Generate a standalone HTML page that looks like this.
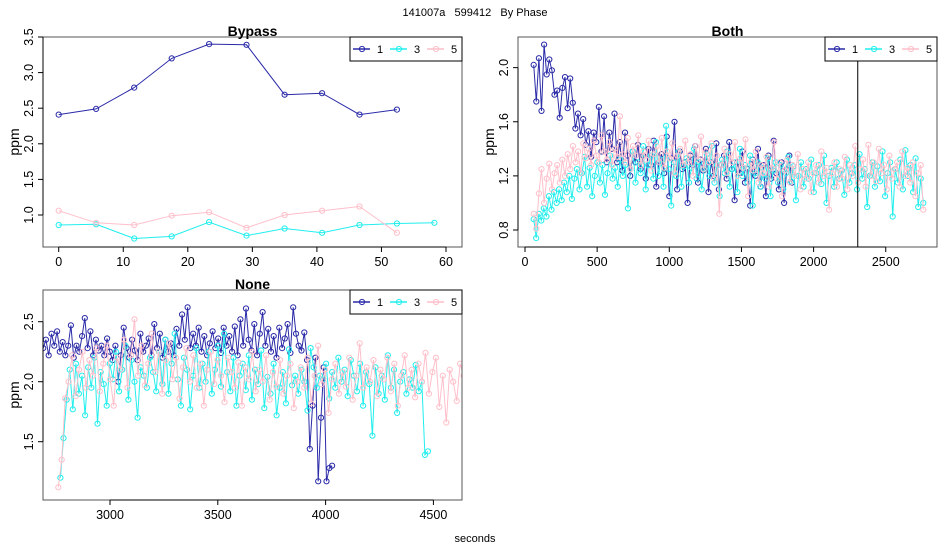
<!DOCTYPE html>
<html><head><meta charset="utf-8"><style>
html,body{margin:0;padding:0;background:#fff;}
svg{display:block;font-family:"Liberation Sans",sans-serif;}
</style></head><body>
<svg id="s" width="950" height="550" viewBox="0 0 950 550">
<text x="475" y="16" text-anchor="middle" font-size="11" style="white-space:pre">141007a   599412   By Phase</text>
<text x="475" y="542" text-anchor="middle" font-size="11">seconds</text>
</svg>
<script>
// ---- Bypass data ----
const bypassX1 = [0,5.8,11.7,17.5,23.3,29.1,35,40.8,46.6,52.4];
const bypassY1 = [2.41,2.49,2.79,3.20,3.40,3.39,2.69,2.71,2.41,2.48];
const bypassX3 = [0,5.8,11.7,17.5,23.3,29.1,35,40.8,46.6,52.4,58.2];
const bypassY3 = [0.86,0.87,0.67,0.70,0.90,0.71,0.81,0.75,0.86,0.88,0.89];
const bypassX5 = [0,5.8,11.7,17.5,23.3,29.1,35,40.8,46.6,52.4];
const bypassY5 = [1.06,0.89,0.86,0.99,1.04,0.82,1.00,1.06,1.12,0.75];
// ---- Both data (time range start/end per series, values sampled evenly) ----
const bothRange1 = [60,1850];
const bothY1 = [2.02,1.75,2.07,1.68,2.17,1.95,2.06,1.98,1.80,1.83,1.63,1.85,1.93,1.70,1.92,1.74,1.55,1.66,1.50,1.62,1.43,1.53,1.34,1.52,1.45,1.71,1.38,1.64,1.30,1.52,1.40,1.66,1.30,1.45,1.24,1.52,1.35,1.20,1.38,1.30,1.43,1.25,1.35,1.18,1.40,1.28,1.46,1.12,1.30,1.36,1.22,1.49,1.05,1.33,1.60,1.10,1.38,1.25,1.30,1.00,1.35,1.28,1.42,1.15,1.32,1.24,1.40,1.08,1.30,1.20,1.44,1.10,1.28,1.35,1.18,1.45,1.25,1.02,1.30,1.22,1.38,1.15,1.25,0.98,1.32,1.20,1.40,1.12,1.28,1.05,1.35,1.18,1.46,1.22,1.10,1.30,1.00,1.25,1.35,1.15];
const bothRange3 = [60,2760];
const bothY3 = [0.88,0.74,0.92,0.87,0.96,0.90,1.05,0.95,1.08,1.00,1.10,1.02,1.15,1.08,1.20,1.03,1.18,1.25,1.10,1.22,1.34,1.12,1.26,1.05,1.20,1.30,1.15,1.28,1.06,1.22,1.35,1.18,1.26,1.12,1.32,1.20,1.28,0.96,1.25,1.38,1.15,1.30,1.22,1.42,1.10,1.28,1.35,1.18,1.45,1.20,1.32,1.12,1.57,1.25,0.98,1.30,1.20,1.38,1.12,1.27,1.33,1.15,1.26,1.40,1.18,1.30,1.10,1.25,1.36,1.20,1.42,1.15,1.28,1.05,1.32,1.22,1.38,1.12,1.25,1.30,1.08,1.40,1.20,1.28,1.15,1.35,0.98,1.22,1.30,1.12,1.26,1.18,1.33,1.05,1.24,1.30,1.15,1.28,1.10,1.22,1.34,1.16,1.27,1.02,1.20,1.30,1.12,1.25,1.18,1.32,1.08,1.22,1.28,1.14,1.35,1.00,1.20,1.26,1.12,1.30,1.18,1.24,1.06,1.32,1.15,1.22,1.28,1.10,1.36,1.18,1.25,0.97,1.20,1.30,1.12,1.27,1.16,1.38,1.05,1.22,1.30,0.90,1.25,1.15,1.32,1.10,1.39,1.20,1.28,1.08,1.33,0.97,1.18,1.00];
const bothRange5 = [60,2760];
const bothY5 = [0.92,0.81,1.07,1.25,1.00,1.18,1.29,1.10,1.22,1.28,1.15,1.32,1.20,1.36,1.25,1.42,1.30,1.38,1.22,1.44,1.33,1.40,1.28,1.46,1.35,1.30,1.50,1.38,1.32,1.45,1.28,1.40,1.34,1.64,1.36,1.30,1.48,1.25,1.42,1.35,1.50,1.28,1.38,1.32,1.46,1.24,1.36,1.42,1.30,1.48,1.26,1.38,1.33,1.44,1.22,1.35,1.40,1.28,1.46,1.30,1.36,1.20,1.42,1.32,1.49,1.25,1.38,1.30,1.44,1.18,1.35,0.92,1.28,1.40,1.22,1.36,1.30,1.45,1.20,1.33,1.26,1.47,1.05,1.30,1.24,1.38,1.15,1.28,1.22,1.34,1.12,1.26,1.45,1.18,1.30,1.05,1.24,1.32,1.15,1.28,1.20,1.36,1.10,1.25,1.18,1.30,1.08,1.22,1.28,1.15,1.38,1.20,1.26,0.95,1.22,1.30,1.12,1.25,1.18,1.34,1.10,1.28,1.20,1.42,1.15,1.25,1.32,1.12,1.43,1.20,1.30,1.16,1.40,1.22,1.28,1.10,1.35,1.18,1.25,1.30,1.12,1.38,1.20,1.26,1.15,1.30,1.05,1.22,1.28,0.95];
const bothVLine = [2306];
// ---- None data ----
const noneRange1 = [2690,4030];
const noneY1 = [2.28,2.35,2.22,2.40,2.30,2.42,2.25,2.33,2.22,2.30,2.47,2.20,2.30,2.25,2.38,2.53,2.28,2.42,2.22,2.35,2.26,2.30,2.22,2.36,2.25,2.18,2.30,2.00,2.22,2.45,2.28,2.20,2.35,2.26,2.18,2.40,2.25,2.30,2.36,2.22,2.48,2.28,2.40,2.20,2.35,2.25,2.32,2.22,2.44,2.30,2.56,2.35,2.62,2.28,2.40,2.30,2.45,2.25,2.38,2.22,2.32,2.42,2.28,2.36,2.24,2.45,2.30,2.38,2.25,2.46,2.22,2.52,2.30,2.61,2.35,2.26,2.48,2.22,2.40,2.58,2.30,2.44,2.25,2.38,2.20,2.45,2.28,2.36,2.48,2.24,2.62,2.40,2.30,2.26,2.41,2.18,1.44,1.80,2.20,1.17,1.70,2.12,1.17,1.28,1.30];
const noneRange3 = [2770,4475];
const noneY3 = [1.20,1.53,1.85,2.10,1.77,2.15,1.90,2.05,1.72,2.12,1.95,2.20,1.65,2.08,1.98,1.80,2.15,2.02,2.25,1.92,2.10,2.30,1.85,2.18,2.00,1.70,2.12,2.05,1.95,2.20,2.08,1.92,2.25,1.98,2.35,1.90,2.15,2.40,2.02,1.80,2.20,2.10,1.77,2.05,2.28,1.95,2.15,2.00,2.25,1.90,2.10,2.30,1.96,2.40,2.08,1.92,2.20,1.80,2.05,2.15,1.93,2.22,1.85,2.10,1.98,2.26,1.78,2.04,1.90,2.15,1.72,1.95,2.08,1.82,2.27,1.97,2.05,1.90,2.10,2.00,1.76,2.28,2.12,1.95,2.05,2.02,2.15,1.86,2.08,1.95,2.20,2.00,2.10,1.88,2.18,2.05,1.92,2.15,1.80,2.08,1.98,1.55,2.12,1.90,2.05,1.85,2.22,1.95,2.10,1.74,2.00,2.08,1.90,2.02,1.95,2.14,1.92,2.00,1.39,1.42];
const noneRange5 = [2760,4640];
const noneY5 = [1.12,1.35,1.86,2.00,2.22,1.88,2.10,2.25,1.95,2.18,2.05,2.28,1.92,2.15,2.30,2.02,1.80,2.20,2.10,2.35,1.95,2.22,2.52,2.05,2.30,1.97,2.15,2.40,2.08,2.25,1.90,2.18,2.32,2.02,2.20,1.86,2.12,2.28,2.00,2.22,1.95,2.15,1.80,2.10,2.25,1.98,2.18,2.05,1.83,2.20,2.08,1.95,2.16,1.80,2.12,2.02,2.25,1.92,2.10,2.00,2.22,1.85,2.08,1.96,2.18,1.90,2.05,2.15,1.78,2.00,2.12,1.95,2.20,1.82,2.05,2.30,1.98,2.10,1.74,2.02,2.15,1.90,2.08,1.96,2.20,1.85,2.05,2.32,1.95,2.12,2.00,2.18,1.88,2.10,2.02,2.20,1.92,2.15,1.80,2.05,2.22,1.95,2.10,1.87,2.15,2.00,2.24,1.90,2.08,2.20,1.79,2.05,1.66,2.10,2.00,1.84,2.15,2.05];
// ---- ticks ----
const bypassXTicks = [0,10,20,30,40,50,60];
const bypassYTicks = ["1.0","1.5","2.0","2.5","3.0","3.5"];
const bothXTicks = [0,500,1000,1500,2000,2500];
const bothYTicks = ["0.8","1.2","1.6","2.0"];
const noneXTicks = [3000,3500,4000,4500];
const noneYTicks = ["1.5","2.0","2.5"];
const legendLabels = ["1","3","5"];

const NS = "http://www.w3.org/2000/svg";
const svg = document.getElementById('s');
const COLORS = ["#2a2aa8","#22eeee","#ffbfca"];
function mk(tag, attrs, parent){const e=document.createElementNS(NS,tag);for(const k in attrs)e.setAttribute(k,attrs[k]);(parent||svg).appendChild(e);return e;}
function spread(range,vals){const n=vals.length;return vals.map((v,i)=>range[0]+i*(range[1]-range[0])/(n-1));}

function panel(cfg){
  const g=mk('g',{});
  
  
  const sx=v=>cfg.x0px+(v-cfg.x0)*cfg.xs;
  const sy=v=>cfg.y0px-(v-cfg.y0)*cfg.ys;
  const cid='clip-'+cfg.name;
  const cp=mk('clipPath',{id:cid},g);
  mk('rect',{x:cfg.L,y:cfg.T,width:cfg.R-cfg.L,height:cfg.B-cfg.T},cp);
  const data=mk('g',{'clip-path':'url(#'+cid+')'},g);
  cfg.series.forEach((s,si)=>{
    const sg=mk('g',{},data);
    
    
    const pts=s.x.map((xv,i)=>sx(xv).toFixed(1)+','+sy(s.y[i]).toFixed(1)).join(' ');
    const pl=mk('polyline',{points:pts,fill:'none',stroke:COLORS[si],'stroke-width':1},sg);
    
    
    s.x.forEach((xv,i)=>{
      const c=mk('circle',{cx:sx(xv).toFixed(1),cy:sy(s.y[i]).toFixed(1),r:2.6,fill:'none',stroke:COLORS[si],'stroke-width':1},sg);
      
      
    });
  });
  if(cfg.vline){cfg.vline.forEach(v=>{const l=mk('line',{x1:sx(v),x2:sx(v),y1:cfg.T,y2:cfg.B,stroke:'#000','stroke-width':1},g);
    
    });}
  const box=mk('rect',{x:cfg.L,y:cfg.T,width:cfg.R-cfg.L,height:cfg.B-cfg.T,fill:'none',stroke:'#555','stroke-width':1},g);
  
  
  const xa=mk('g',{},g);
  
  
  const xt=cfg.xticks;
  mk('line',{x1:sx(xt[0]),x2:sx(xt[xt.length-1]),y1:cfg.B,y2:cfg.B,stroke:'#000'},xa);
  xt.forEach(t=>{mk('line',{x1:sx(t),x2:sx(t),y1:cfg.B,y2:cfg.B+5,stroke:'#000'},xa);
    const tx=mk('text',{x:sx(t),y:cfg.B+19,'text-anchor':'middle','font-size':12.5},xa);tx.textContent=String(t);
    
    });
  const ya=mk('g',{},g);
  
  
  const yt=cfg.yticks.map(Number);
  mk('line',{x1:cfg.L,x2:cfg.L,y1:sy(yt[0]),y2:sy(yt[yt.length-1]),stroke:'#000'},ya);
  cfg.yticks.forEach(t=>{const v=Number(t);mk('line',{x1:cfg.L-5,x2:cfg.L,y1:sy(v),y2:sy(v),stroke:'#000'},ya);
    const tx=mk('text',{x:0,y:0,'text-anchor':'middle','font-size':12.5,transform:'translate('+(cfg.L-10)+','+sy(v)+') rotate(-90)'},ya);tx.textContent=t;
    
    });
  const yl=mk('text',{x:0,y:0,'text-anchor':'middle','font-size':14,transform:'translate('+(cfg.L-24)+','+((cfg.T+cfg.B)/2)+') rotate(-90)'},g);
  yl.textContent='ppm';
  
  
  const ti=mk('text',{x:(cfg.L+cfg.R)/2,y:cfg.T-1,'text-anchor':'middle','font-size':14,'font-weight':'bold'},g);
  ti.textContent=cfg.title;
  
  
  const lg=mk('g',{},g);
  
  
  const lx=cfg.R-112, ly=cfg.T;
  mk('rect',{x:lx,y:ly,width:112,height:24,fill:'#fff',stroke:'#000'},lg);
  legendLabels.forEach((lab,i)=>{
    const e=mk('g',{},lg);
    
    
    const bx=lx+3+i*37;
    mk('line',{x1:bx,x2:bx+17,y1:ly+12,y2:ly+12,stroke:COLORS[i],'stroke-width':1.5},e);
    mk('circle',{cx:bx+9,cy:ly+12,r:2.6,fill:'none',stroke:COLORS[i]},e);
    const t=mk('text',{x:bx+27,y:ly+16,'text-anchor':'middle','font-size':11},e);t.textContent=lab;
  });
}

panel({name:'bypass',title:'Bypass',L:43,R:462,T:37,B:247,x0:0,x0px:58.7,xs:(446-58.7)/60,y0:1.0,y0px:215,ys:71.2,
  xticks:bypassXTicks,yticks:bypassYTicks,
  series:[{x:bypassX1,y:bypassY1},{x:bypassX3,y:bypassY3},{x:bypassX5,y:bypassY5}]});
panel({name:'both',title:'Both',L:518,R:937,T:37,B:247,x0:0,x0px:525,xs:0.1443,y0:0.8,y0px:230,ys:135.3,
  xticks:bothXTicks,yticks:bothYTicks,vline:bothVLine,
  series:[{x:spread(bothRange1,bothY1),y:bothY1},{x:spread(bothRange3,bothY3),y:bothY3},{x:spread(bothRange5,bothY5),y:bothY5}]});
panel({name:'none',title:'None',L:43,R:462,T:290,B:500,x0:3000,x0px:110,xs:0.2156,y0:2.0,y0px:381.7,ys:120,
  xticks:noneXTicks,yticks:noneYTicks,
  series:[{x:spread(noneRange1,noneY1),y:noneY1},{x:spread(noneRange3,noneY3),y:noneY3},{x:spread(noneRange5,noneY5),y:noneY5}]});
</script>
</body></html>
